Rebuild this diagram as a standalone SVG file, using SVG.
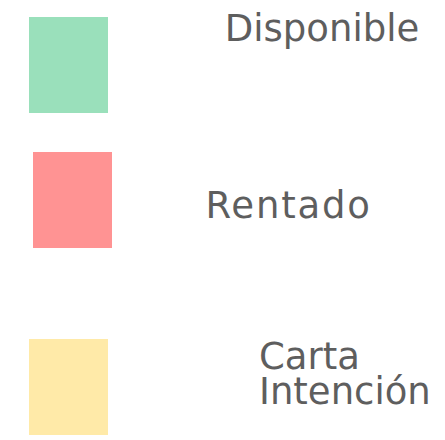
<svg xmlns="http://www.w3.org/2000/svg" width="445" height="440" viewBox="0 0 445 440">
<style>
.lbl{font-family:"DejaVu Sans",Verdana,sans-serif;font-size:37px;fill:#5e5e5e}
</style>
<rect width="445" height="440" fill="#ffffff"/>
<g id="disponible">
<rect x="29" y="17" width="79" height="96" fill="#9ae0bb"/>
<text class="lbl" x="322" y="41" text-anchor="middle">Disponible</text>
</g>
<g id="rentado">
<rect x="33" y="152" width="79" height="96" fill="#ff9393"/>
<text class="lbl" x="205.5" y="218" letter-spacing="1.8">Rentado</text>
</g>
<g id="carta">
<rect x="29" y="339" width="79" height="96" fill="#ffeaa8"/>
<text class="lbl" x="259" y="369">Carta</text>
<text class="lbl" x="259" y="404">Intención</text>
</g>
</svg>
